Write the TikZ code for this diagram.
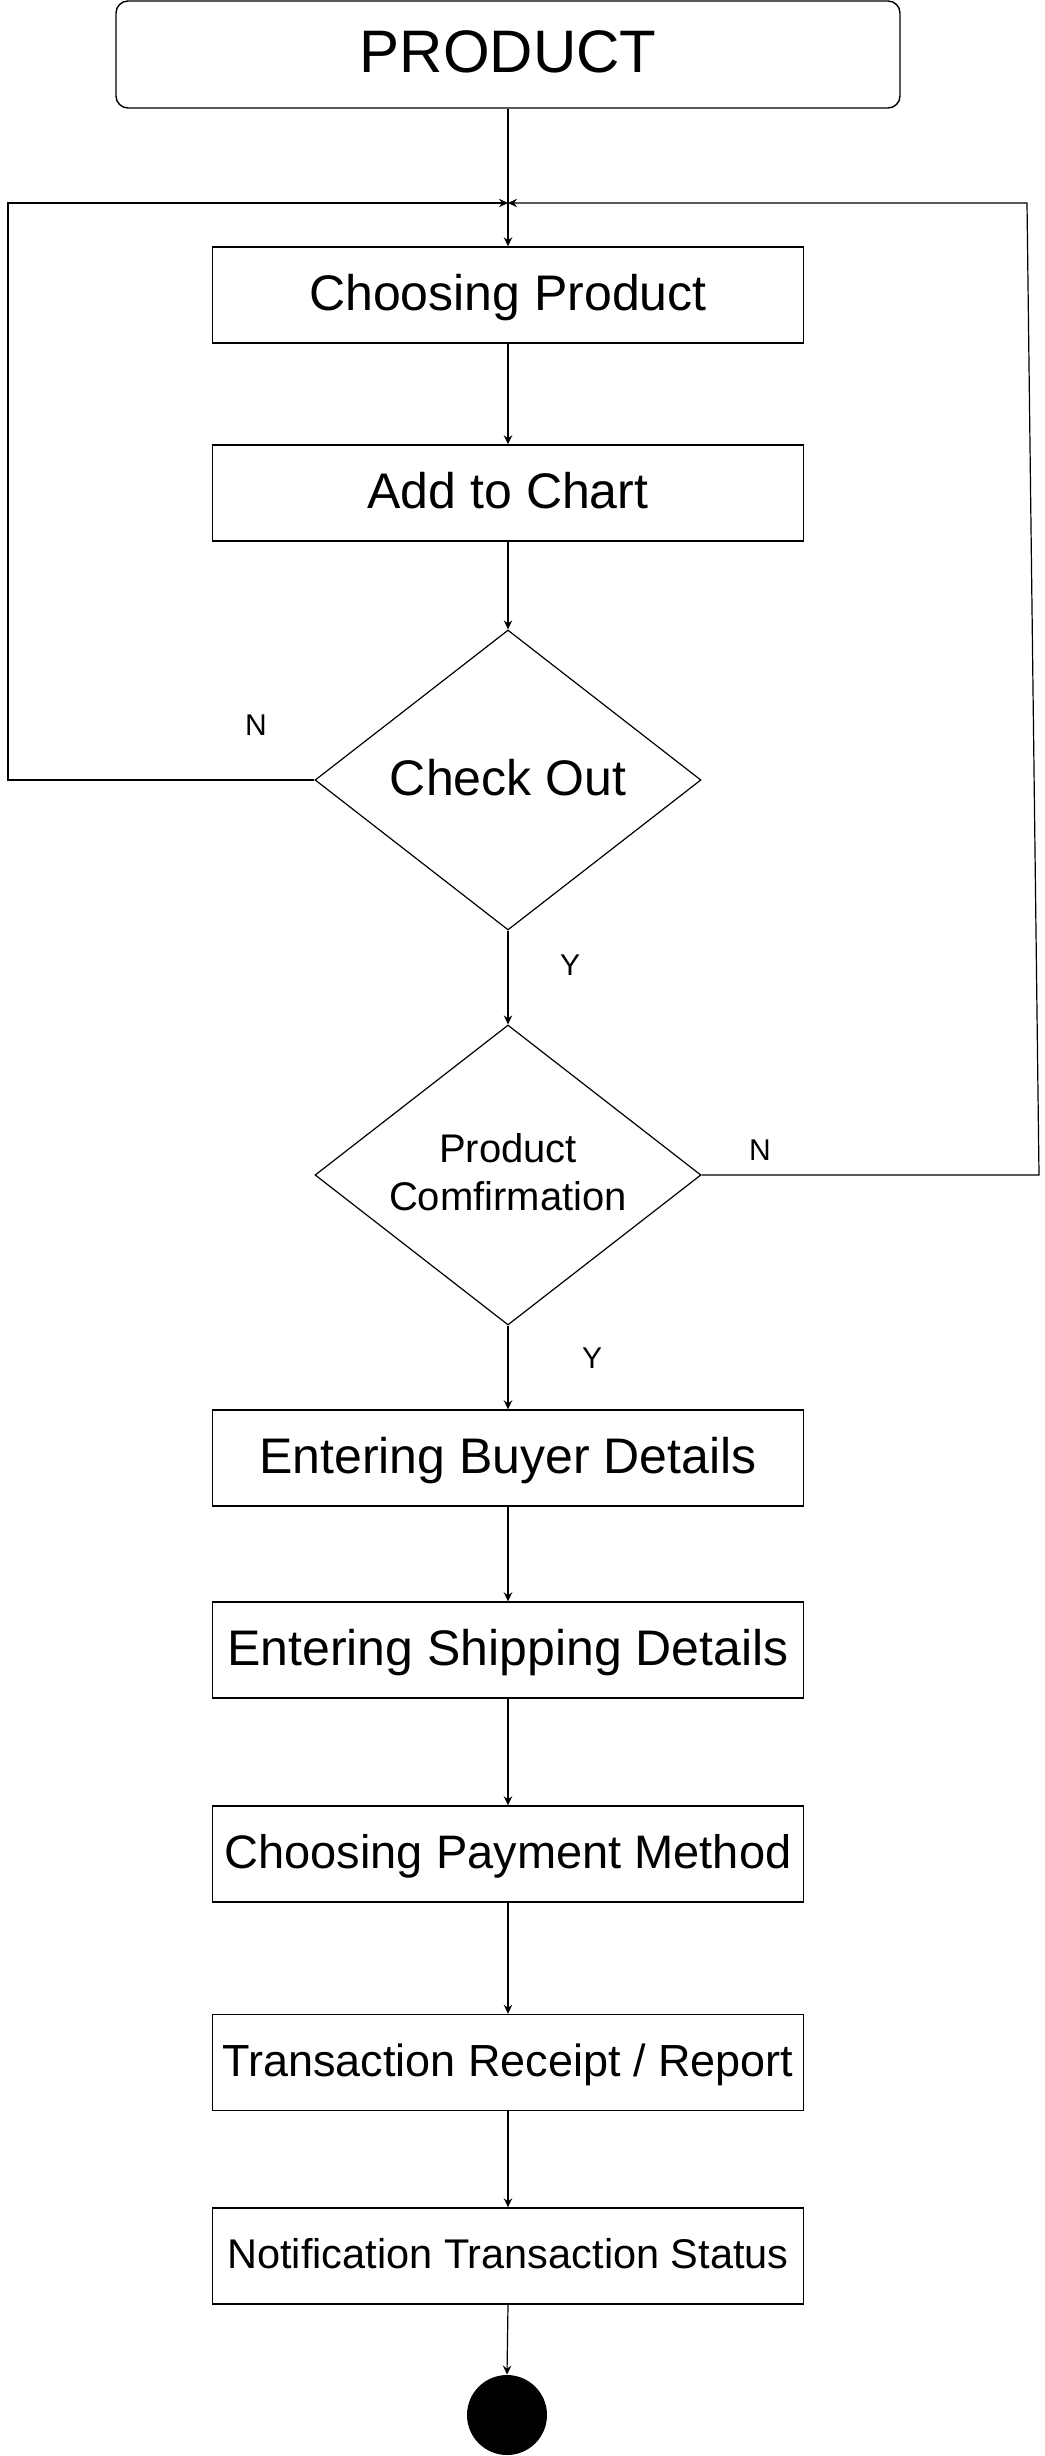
\documentclass[tikz,border=0pt]{standalone}
\usepackage{fontspec}
\setmainfont{Liberation Sans}
\usetikzlibrary{shapes.geometric,arrows.meta}
\begin{document}
\begin{tikzpicture}[x=0.5pt,y=-0.5pt,
  box/.style={draw, line width=0.7pt, minimum width=295.5pt, minimum height=48pt, inner sep=0pt, align=center},
  dia/.style={draw, diamond, line width=0.6pt, minimum width=193pt, minimum height=150pt, inner sep=0pt},
  arr/.style={line width=0.6pt, -{Stealth[length=4.5pt,width=4.2pt,inset=1.5pt]}},
  fs/.style={font=\fontsize{#1pt}{#1pt}\selectfont, text height={0.8*#1pt}, text depth={0.2*#1pt}},
  lab/.style={fs=15, inner sep=0pt}]
\useasboundingbox (0,0) rectangle (1044,2456);

\node[draw, rounded corners=6pt, line width=0.7pt, minimum width=392pt, minimum height=53.5pt, inner sep=0pt,
      fs=30] (prod) at (508,54.5) {PRODUCT};

\node[box, fs=25] (cp) at (508,295) {Choosing Product};
\node[box, fs=25] (ac) at (508,493) {Add to Chart};

\node[dia] (co) at (508,780) {};
\node[fs=25, inner sep=0pt] (cot) at (co) {Check Out};

\node[dia] (pc) at (508,1175) {};
\node[font=\fontsize{20pt}{24pt}\selectfont, align=center, inner sep=0pt, yshift=1.5pt] (pct) at (pc) {Product\\Comfirmation};

\node[box, fs=25] (eb) at (508,1458) {Entering Buyer Details};
\node[box, fs=25] (es) at (508,1650) {Entering Shipping Details};
\node[box, fs=23.5] (pm) at (508,1854) {Choosing Payment Method};
\node[box, fs=22.5] (tr) at (508,2062.5) {Transaction Receipt / Report};
\node[box, fs=20.75] (nt) at (508,2256) {Notification Transaction Status};

\node[circle, fill=black, minimum size=40pt, inner sep=0pt] (end) at (507,2415) {};

\coordinate (j) at (508,203);
\coordinate (lc) at (8,780);
\coordinate (rc1) at (1039,1175);
\coordinate (rc2) at (1027,203);

\draw[arr] (prod.south) -- (cp.north);
\draw[arr] (cp.south) -- (ac.north);
\draw[arr] (ac.south) -- (co.north);
\draw[arr] (co.south) -- (pc.north);
\draw[arr] (pc.south) -- (eb.north);
\draw[arr] (eb.south) -- (es.north);
\draw[arr] (es.south) -- (pm.north);
\draw[arr] (pm.south) -- (tr.north);
\draw[arr] (tr.south) -- (nt.north);
\draw[arr] (nt.south) -- (end.north);

\draw[arr] (co.west) -- (lc) |- (j);
\draw[arr] (pc.east) -- (rc1) -- (rc2) -- (j);

\node[lab] (n1) at (256,726) {N};
\node[lab] (y1) at (570,966) {Y};
\node[lab] (n2) at (760,1151) {N};
\node[lab] (y2) at (592,1359) {Y};
\end{tikzpicture}
\end{document}
